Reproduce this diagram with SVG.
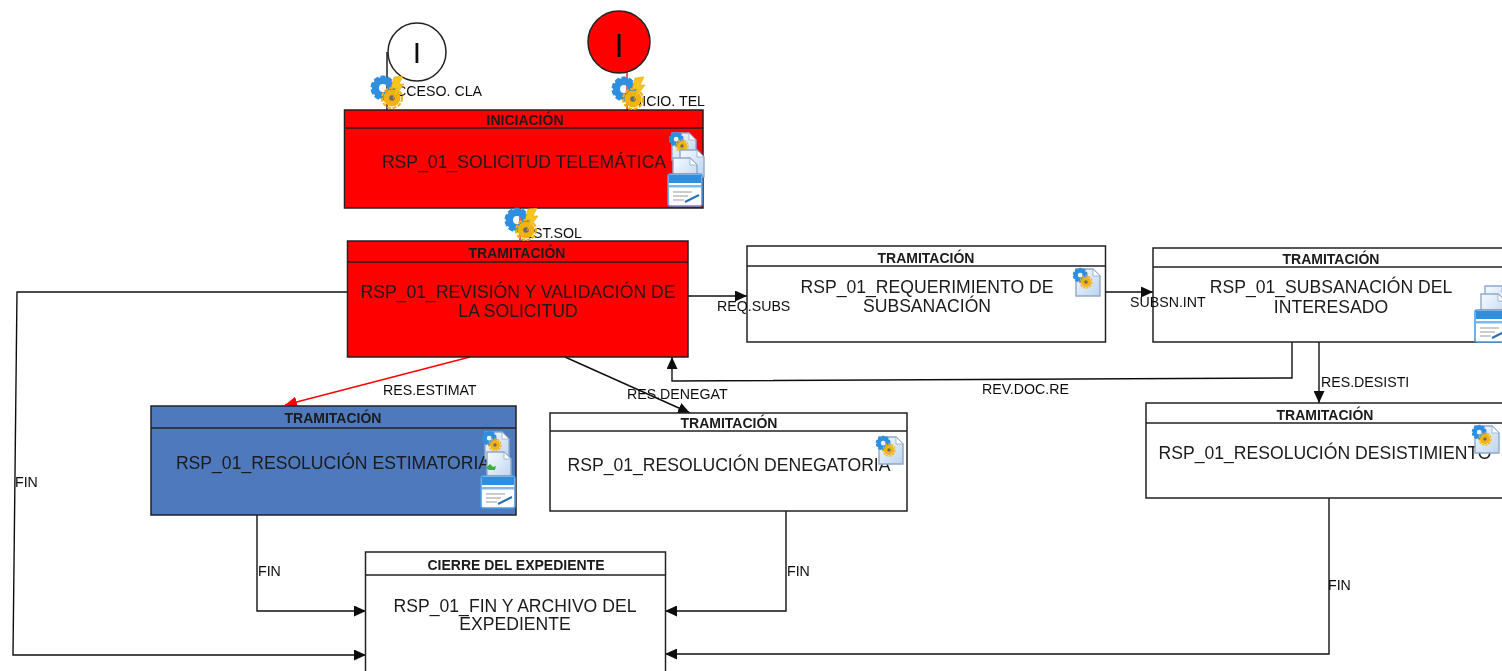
<svg xmlns="http://www.w3.org/2000/svg" width="1502" height="671" viewBox="0 0 1502 671">
<style>
.b{stroke:#222;stroke-width:1.5}
.t{font:17.6px "Liberation Sans",Arial,sans-serif;fill:#1a1a1a;text-anchor:middle}
.h{font:bold 14px "Liberation Sans",Arial,sans-serif;fill:#1a1a1a;text-anchor:middle}
.l{font:14.2px "Liberation Sans",Arial,sans-serif;fill:#111}
.c{fill:none;stroke:#111;stroke-width:1.4}
.r{fill:none;stroke:#f00;stroke-width:1.3}
</style>
<defs>
<filter id="soft" filterUnits="userSpaceOnUse" x="0" y="0" width="1502" height="671"><feGaussianBlur stdDeviation="0.5"/></filter>
<linearGradient id="paper" x1="0" y1="0" x2="1" y2="1"><stop offset="0" stop-color="#f7fbff"/><stop offset="1" stop-color="#bcd3ee"/></linearGradient>
<marker id="a" markerUnits="userSpaceOnUse" markerWidth="13" markerHeight="11" refX="12" refY="5.500" orient="auto"><path d="M0 0L12 5.500L0 11Z" fill="#111"/></marker>
<marker id="ar" markerUnits="userSpaceOnUse" markerWidth="13" markerHeight="11" refX="12" refY="5.500" orient="auto"><path d="M0 0L12 5.500L0 11Z" fill="#f00"/></marker>
<g id="gear"><circle cx="12" cy="12" r="7.5" fill="none" stroke="#2f8fe0" stroke-width="7"/><circle cx="12" cy="12" r="11" fill="none" stroke="#2f8fe0" stroke-width="3" stroke-dasharray="5 2"/></g>
<g id="cog2"><circle cx="10" cy="10" r="8.500" fill="#f2b311"/><circle cx="10" cy="10" r="10" fill="none" stroke="#f2b311" stroke-width="2" stroke-dasharray="4 1.500"/><circle cx="10" cy="10" r="2.800" fill="#6b6b6b"/></g>
<g id="trigger"><use href="#gear"/><use href="#cog2" x="11" y="12"/><path d="M23 1L32 0L28 8L33 8L22 23L25 12L20 12Z" fill="#f7c51d" stroke="#e29c08" stroke-width=".5"/></g>
<g id="doc"><path d="M3 1H20L27 8V28H3Z" fill="url(#paper)" stroke="#8fa9cc" stroke-width="1.4"/><path d="M20 1V8H27Z" fill="#fff" stroke="#8fa9cc" stroke-width=".8"/></g>
<g id="docg"><use href="#doc"/><use href="#gear" transform="scale(.6)"/><use href="#cog2" transform="translate(7,8) scale(.6)"/></g>
<g id="win"><rect x="0" y="0" width="34" height="32" rx="2" fill="#fff" stroke="#4f9ae0" stroke-width="1.6"/><rect x="1" y="1" width="32" height="8" fill="#2f8fe0"/><rect x="1" y="11" width="32" height="2.5" fill="#7fb9ea"/><path d="M5 18H24M5 22H20M5 26H16" stroke="#999" stroke-width="1.2"/><path d="M17 28L31 21" stroke="#2a70b8" stroke-width="2"/></g>
</defs>
<g filter="url(#soft)">
<g id="connectors">
<path class="c" d="M387 52V110"/>
<path class="r" d="M627 72V110"/>
<path class="r" d="M520 208V240"/>
<path class="c" d="M688 296H747" marker-end="url(#a)"/>
<path class="c" d="M1105 292H1153" marker-end="url(#a)"/>
<path class="c" d="M1292 342V378L672 381V357" marker-end="url(#a)"/>
<path class="c" d="M1319 342V403" marker-end="url(#a)"/>
<path class="r" d="M470 357L285 405" marker-end="url(#ar)"/>
<path class="c" d="M565 357L690 413" marker-end="url(#a)"/>
<path class="c" d="M347 292H17L13 655H366" marker-end="url(#a)"/>
<path class="c" d="M257 515V611H366" marker-end="url(#a)"/>
<path class="c" d="M786 511V611H665" marker-end="url(#a)"/>
<path class="c" d="M1329 498V654H665" marker-end="url(#a)"/>
</g>

<g id="start-cla"><circle class="b" cx="417" cy="52" r="29" fill="#fff"/><text x="417" y="63" font-family="Liberation Sans,sans-serif" font-size="30" text-anchor="middle" fill="#111">I</text></g>
<g id="start-tel"><circle class="b" cx="619" cy="42" r="31" fill="#f00"/><text x="619" y="57" font-family="Liberation Sans,sans-serif" font-size="33" text-anchor="middle" fill="#111">I</text></g>

<g id="n-iniciacion"><rect class="b" x="344.5" y="110" width="358.5" height="98" fill="#f00"/><path class="b" d="M344.5 128H703"/><text class="h" x="525" y="125">INICIACIÓN</text><text class="t" x="524" y="168">RSP_01_SOLICITUD TELEMÁTICA</text>
<use href="#docg" x="669" y="132"/><use href="#doc" x="677" y="149"/><use href="#doc" x="670" y="157"/><use href="#win" x="668" y="174"/></g>

<g id="n-revision"><rect class="b" x="347.5" y="241" width="340.500" height="116" fill="#f00"/><path class="b" d="M347.5 262H688"/><text class="h" x="517" y="258">TRAMITACIÓN</text><text class="t" x="518" y="298">RSP_01_REVISIÓN Y VALIDACIÓN DE</text><text class="t" x="518" y="317">LA SOLICITUD</text></g>

<g id="n-requerimiento"><rect class="b" x="747" y="246" width="358.500" height="96" fill="#fff"/><path class="b" d="M747 266H1105.500"/><text class="h" x="926" y="263">TRAMITACIÓN</text><text class="t" x="927" y="293">RSP_01_REQUERIMIENTO DE</text><text class="t" x="927" y="312">SUBSANACIÓN</text><use href="#docg" x="1073" y="268"/></g>

<g id="n-subsanacion"><rect class="b" x="1153" y="248" width="360" height="94" fill="#fff"/><path class="b" d="M1153 267H1513"/><text class="h" x="1331" y="264">TRAMITACIÓN</text><text class="t" x="1331" y="293">RSP_01_SUBSANACIÓN DEL</text><text class="t" x="1331" y="313">INTERESADO</text><use href="#doc" x="1482" y="285"/><use href="#doc" x="1478" y="293"/><use href="#win" x="1475" y="310"/></g>

<g id="n-desistimiento"><rect class="b" x="1146" y="403" width="368" height="95" fill="#fff"/><path class="b" d="M1146 423H1514"/><text class="h" x="1325" y="420">TRAMITACIÓN</text><text class="t" x="1325" y="459">RSP_01_RESOLUCIÓN DESISTIMIENTO</text><use href="#docg" x="1472" y="425"/></g>

<g id="n-estimatoria"><rect class="b" x="151" y="406" width="365" height="109" fill="#4f79bd"/><path class="b" d="M151 428H516"/><text class="h" x="333" y="423">TRAMITACIÓN</text><text class="t" x="333" y="469">RSP_01_RESOLUCIÓN ESTIMATORIA</text><use href="#docg" x="482" y="431"/><use href="#doc" x="484" y="451"/><path d="M486 468l4-4 3 3 3-1-1 4h-6z" fill="#3dae3d"/><use href="#win" x="481" y="476"/></g>

<g id="n-denegatoria"><rect class="b" x="550" y="413" width="357" height="98" fill="#fff"/><path class="b" d="M550 431H907"/><text class="h" x="729" y="428">TRAMITACIÓN</text><text class="t" x="729" y="471">RSP_01_RESOLUCIÓN DENEGATORIA</text><use href="#docg" x="876" y="436"/></g>

<g id="n-cierre"><rect class="b" x="365.500" y="552" width="300" height="130" fill="#fff"/><path class="b" d="M365.500 575H665.500"/><text class="h" x="516" y="570">CIERRE DEL EXPEDIENTE</text><text class="t" x="515" y="612">RSP_01_FIN Y ARCHIVO DEL</text><text class="t" x="515" y="630">EXPEDIENTE</text></g>

<g id="labels">
<text class="l" x="482" y="96" text-anchor="end">ACCESO. CLA</text>
<text class="l" x="705" y="106" text-anchor="end">INICIO. TEL</text>
<text class="l" x="582" y="238" text-anchor="end">EST.SOL</text>
<text class="l" x="717" y="311">REQ.SUBS</text>
<text class="l" x="1130" y="307">SUBSN.INT</text>
<text class="l" x="1321" y="387">RES.DESISTI</text>
<text class="l" x="982" y="394">REV.DOC.RE</text>
<text class="l" x="383" y="395">RES.ESTIMAT</text>
<text class="l" x="627" y="399">RES.DENEGAT</text>
<text class="l" x="15" y="487">FIN</text>
<text class="l" x="258" y="576">FIN</text>
<text class="l" x="787" y="576">FIN</text>
<text class="l" x="1328" y="590">FIN</text>
</g>
<g id="triggers"><use href="#trigger" x="371" y="76"/><use href="#trigger" x="612" y="77"/><use href="#trigger" x="505" y="208"/></g>
</g>
</svg>
